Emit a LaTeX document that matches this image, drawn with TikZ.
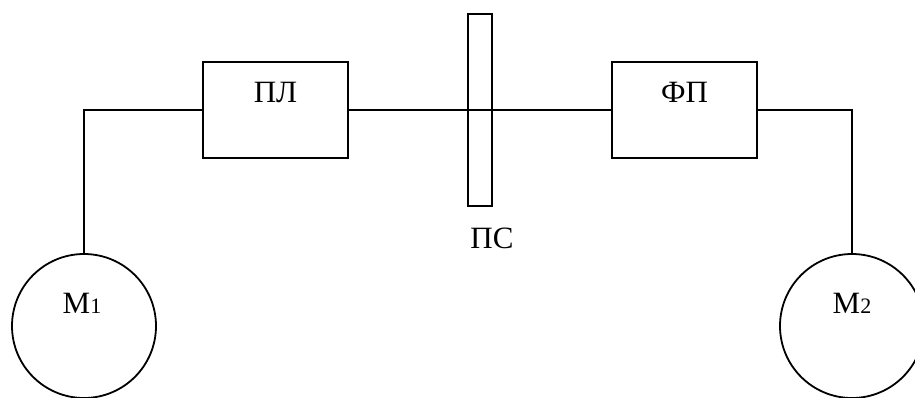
\documentclass[tikz,border=0pt]{standalone}
\usepackage{fontspec}
\setmainfont{Liberation Serif}
\begin{document}
\begin{tikzpicture}[x=1pt,y=-1pt,
  line width=1.8pt,
  box/.style={draw,rectangle,minimum width=145pt,minimum height=96pt,inner sep=0pt},
  bar/.style={draw,rectangle,minimum width=24pt,minimum height=192pt,inner sep=0pt},
  motor/.style={draw,circle,minimum size=144pt,inner sep=0pt},
  lbl/.style={inner sep=0pt,font=\fontsize{31}{37}\selectfont}]
\useasboundingbox (0,0) rectangle (915,397);
\clip (0,0) rectangle (915,397);
\node[box] (pl) at (275.5,110) {};
\node[box] (fp) at (684.5,110) {};
\node[bar] (ps) at (480,110) {};
\node[motor] (m1) at (84,326) {};
\node[motor] (m2) at (852,326) {};
\node[lbl] (plt) at (275.5,92) {ПЛ};
\node[lbl] (fpt) at (684.5,92) {ФП};
\node[lbl] (pst) at (492,238) {ПС};
\node[lbl] (m1t) at (82,303) {M{\fontsize{22}{26}\selectfont 1}};
\node[lbl] (m2t) at (852,303) {M{\fontsize{22}{26}\selectfont 2}};
\draw (m1.north) |- (pl.west);
\draw (pl.east) -- (fp.west);
\draw (fp.east) -| (m2.north);
\end{tikzpicture}
\end{document}
